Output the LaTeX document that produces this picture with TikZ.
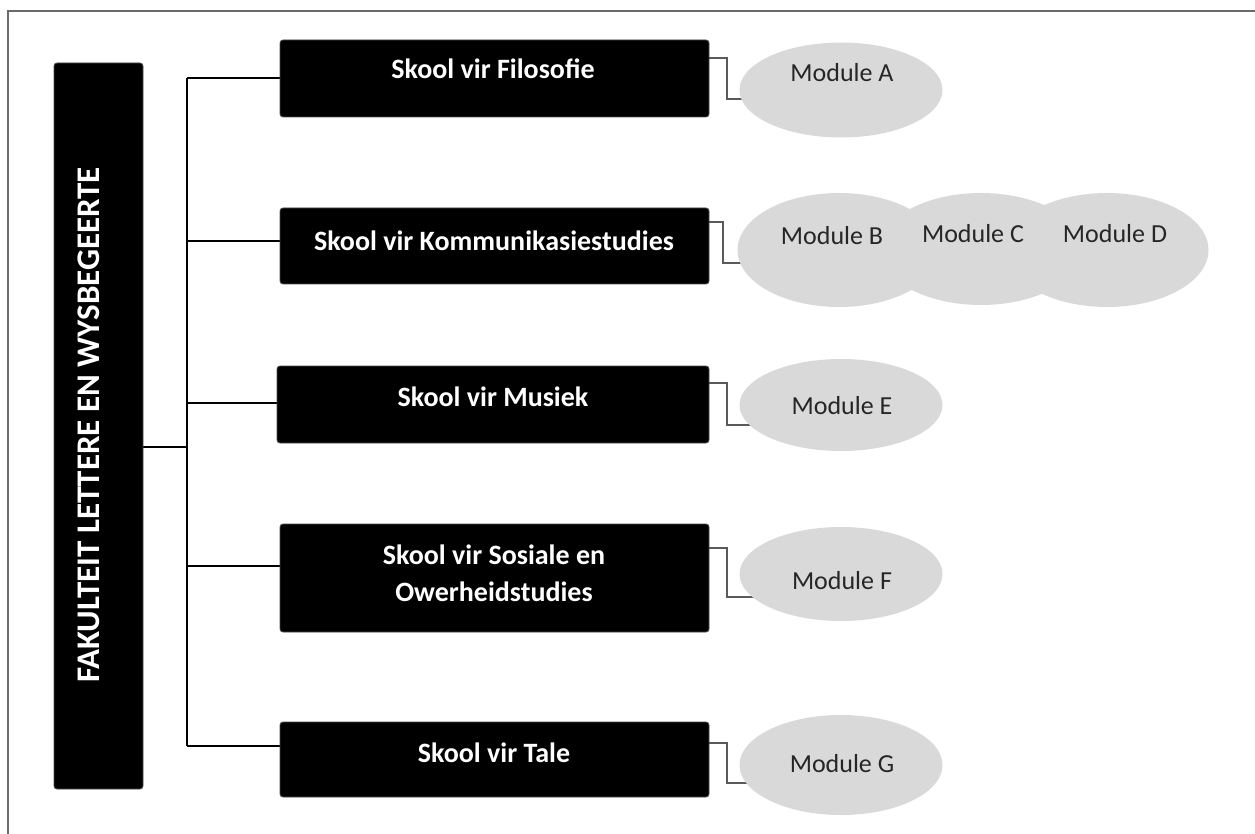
\documentclass[tikz,border=0pt]{standalone}
\usepackage{fontspec}
\setmainfont{Carlito}
\usetikzlibrary{shapes.geometric}
\pgfdeclarelayer{bg}
\pgfsetlayers{bg,main}
\definecolor{modfill}{HTML}{D9D9D9}
\definecolor{modtext}{HTML}{262626}
\definecolor{elbowc}{HTML}{5A5A5A}
\definecolor{framec}{HTML}{6B6B6B}
\begin{document}
\begin{tikzpicture}[x=1pt,y=-1pt,
  box/.style={fill=black, draw=black!70, line width=0.8pt, rounded corners=3pt,
    inner sep=0pt, outer sep=0pt, minimum width=#1},
  box/.default=429pt,
  stext/.style={text=white, font=\bfseries\fontsize{28}{37}\selectfont, anchor=base, align=center, inner sep=0pt},
  modell/.style={ellipse, fill=modfill, inner sep=0pt, outer sep=0pt, minimum width=203pt},
  mtext/.style={text=modtext, font=\fontsize{26}{30}\selectfont, anchor=base, inner sep=0pt},
  tree/.style={draw=black, line width=1.3pt},
  elbow/.style={draw=elbowc, line width=2pt}
]
\useasboundingbox (0,0) rectangle (1255,834);
% frame (only top and left edges visible)
\draw[framec, line width=2pt] (1255,11) -- (8,11) -- (8,834);

% faculty
\node[box=89pt, minimum height=726pt] (fak) at (98.5,426) {};
\node[text=white, font=\bfseries\fontsize{33}{36}\selectfont, rotate=90, anchor=base, inner sep=0pt] (fakt) at (99,425) {FAKULTEIT LETTERE EN WYSBEGEERTE};

% schools
\node[box, minimum height=77pt] (s1) at (494.5,78.5) {};
\node[box, minimum height=76pt] (s2) at (494.5,246) {};
\node[box=432pt, minimum height=77pt] (s3) at (493,404.5) {};
\node[box, minimum height=108pt] (s4) at (494.5,578) {};
\node[box, minimum height=75pt] (s5) at (494.5,759.5) {};

\node[stext] (t1) at (493,79) {Skool vir Filosofie};
\node[stext] (t2) at (494,251) {Skool vir Kommunikasiestudies};
\node[stext] (t3) at (493,406) {Skool vir Musiek};
\node[stext] (t4a) at (494,564) {Skool vir Sosiale en};
\node[stext] (t4b) at (494,601) {Owerheidstudies};
\node[stext] (t5) at (494,762) {Skool vir Tale};

% modules
\node[modell, minimum height=95pt] (mA) at (841,90) {};
\node[modell, minimum height=114pt] (mB) at (839,250) {};
\node[modell, minimum height=112pt] (mC) at (981,249) {};
\node[modell, minimum height=114pt] (mD) at (1107,250) {};
\node[modell, minimum height=92pt] (mE) at (841,405) {};
\node[modell, minimum height=94pt] (mF) at (841,574) {};
\node[modell, minimum height=100pt] (mG) at (841,765) {};

\node[mtext] (lA) at (842,82) {Module A};
\node[mtext] (lB) at (832,245) {Module B};
\node[mtext] (lC) at (973,243) {Module C};
\node[mtext] (lD) at (1115,243) {Module D};
\node[mtext] (lE) at (842,414) {Module E};
\node[mtext] (lF) at (842,589) {Module F};
\node[mtext] (lG) at (842,772) {Module G};

\coordinate (j) at (187,447);
\begin{pgfonlayer}{bg}
  % tree
  \draw[tree] (fak.east |- j) -- (j);
  \draw[tree] (j |- 0,78) -- (j |- 0,746);
  \draw[tree] (j |- 0,78) -- (s1.west |- 0,78);
  \draw[tree] (j |- 0,241) -- (s2.west |- 0,241);
  \draw[tree] (j |- 0,403) -- (s3.west |- 0,403);
  \draw[tree] (j |- 0,566) -- (s4.west |- 0,566);
  \draw[tree] (j |- 0,746) -- (s5.west |- 0,746);
  % elbows
  \draw[elbow] (s1.east |- 0,58) -- (727,58) -- (727,99) -- (mA.center |- 0,99);
  \draw[elbow] (s2.east |- 0,222) -- (723,222) -- (723,263) -- (mB.center |- 0,263);
  \draw[elbow] (s3.east |- 0,383) -- (727,383) -- (727,425) -- (mE.center |- 0,425);
  \draw[elbow] (s4.east |- 0,548) -- (727,548) -- (727,597) -- (mF.center |- 0,597);
  \draw[elbow] (s5.east |- 0,743) -- (727,743) -- (727,783) -- (mG.center |- 0,783);
\end{pgfonlayer}
\end{tikzpicture}
\end{document}
